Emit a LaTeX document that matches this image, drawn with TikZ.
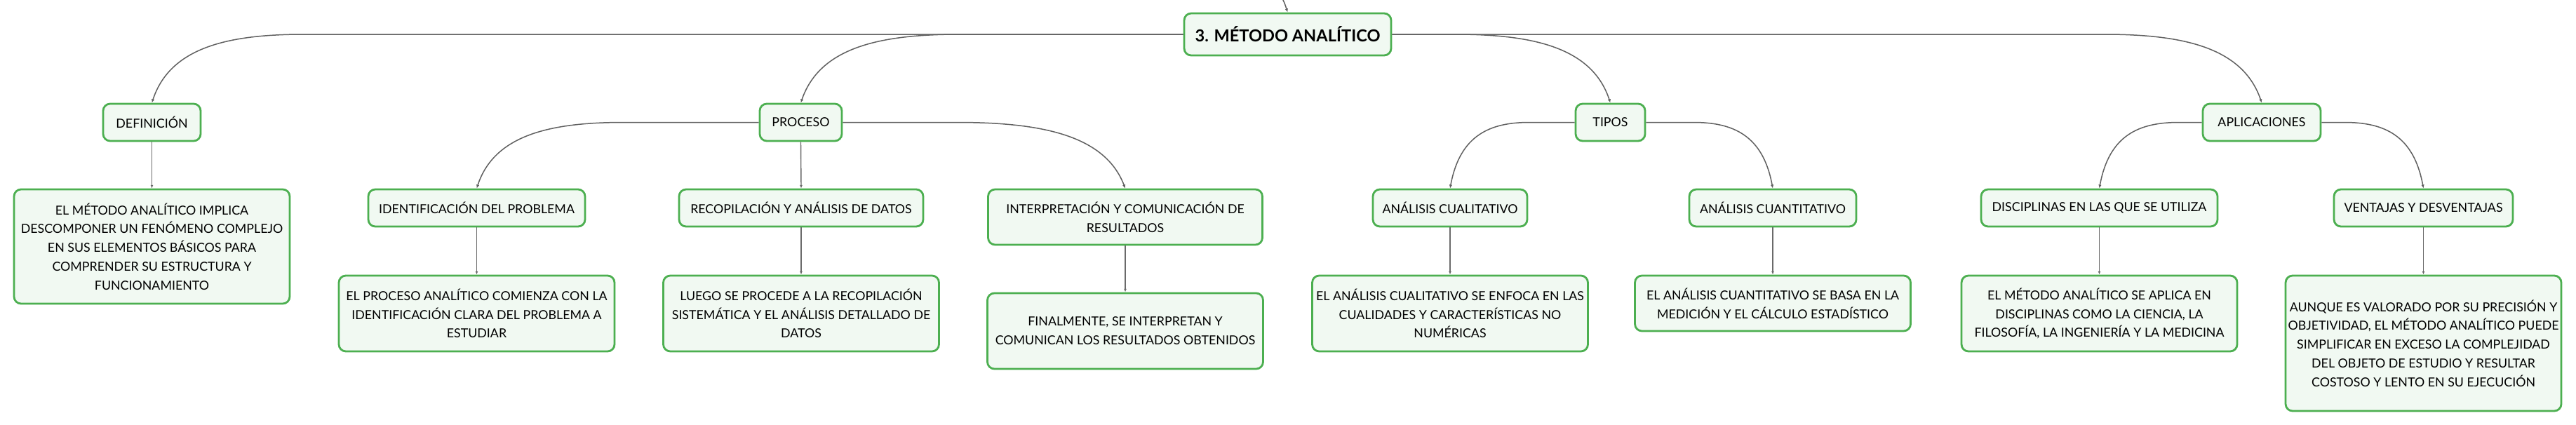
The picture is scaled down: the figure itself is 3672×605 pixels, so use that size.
\documentclass[tikz,border=0pt]{standalone}
\usepackage{fontspec}
\setmainfont{Lato}
\usetikzlibrary{arrows.meta}
\definecolor{boxgreen}{HTML}{4CAF50}
\definecolor{boxfill}{HTML}{F1F9F2}
\definecolor{linegray}{HTML}{606060}
\definecolor{linegraylight}{HTML}{6A6A6A}
\begin{document}
\begin{tikzpicture}[x=0.5pt,y=-0.5pt,
  box/.style={draw=boxgreen, line width=1.4pt, fill=boxfill, rounded corners=5pt,
    align=center, inner sep=0pt, text=black, font=\fontsize{8.9}{13.4}\selectfont},
  rootbox/.style={box, minimum width=147.5pt, minimum height=30pt,
    font=\bfseries\fontsize{11.8}{14}\selectfont},
  lvl/.style={box, minimum height=26.5pt},
  txt/.style={box, minimum width=196.5pt},
  conn/.style={draw=linegray, line width=0.75pt, -{Latex[length=2.6pt,width=2.2pt]}},
  connv/.style={draw=linegraylight, line width=0.7pt, -{Latex[length=2.4pt,width=2pt]}}
]
\useasboundingbox (0,0) rectangle (3672,605);

% ---------- nodes ----------
\node[rootbox] (root) at (1835.5,49) {3. MÉTODO ANALÍTICO};

\node[lvl, minimum width=69.5pt] (def) at (216.5,174.5) {DEFINICIÓN};
\node[lvl, minimum width=58.5pt] (proc) at (1141.5,174.5) {PROCESO};
\node[lvl, minimum width=49.5pt] (tipos) at (2295.5,174.5) {TIPOS};
\node[lvl, minimum width=84pt] (aplic) at (3224,174.5) {APLICACIONES};

\node[lvl, minimum width=154.5pt] (ident) at (679.5,296.5) {IDENTIFICACIÓN DEL PROBLEMA};
\node[lvl, minimum width=174pt] (recop) at (1142,296.5) {RECOPILACIÓN Y ANÁLISIS DE DATOS};
\node[box, minimum width=195.5pt, minimum height=39.5pt] (interp) at (1604,309.5) {INTERPRETACIÓN Y COMUNICACIÓN DE\\RESULTADOS};
\node[lvl, minimum width=110pt] (cual) at (2067,296.5) {ANÁLISIS CUALITATIVO};
\node[lvl, minimum width=119pt] (cuant) at (2527,296.5) {ANÁLISIS CUANTITATIVO};
\node[lvl, minimum width=168.5pt] (disc) at (2992.5,296.5) {DISCIPLINAS EN LAS QUE SE UTILIZA};
\node[lvl, minimum width=127.5pt] (vent) at (3454.5,296.5) {VENTAJAS Y DESVENTAJAS};

\node[txt, minimum height=81.5pt] (deft) at (216.5,351.5) {EL MÉTODO ANALÍTICO IMPLICA\\DESCOMPONER UN FENÓMENO COMPLEJO\\EN SUS ELEMENTOS BÁSICOS PARA\\COMPRENDER SU ESTRUCTURA Y\\FUNCIONAMIENTO};
\node[txt, minimum height=54pt] (identt) at (679.5,447) {EL PROCESO ANALÍTICO COMIENZA CON LA\\IDENTIFICACIÓN CLARA DEL PROBLEMA A\\ESTUDIAR};
\node[txt, minimum height=54pt] (recopt) at (1142,447) {LUEGO SE PROCEDE A LA RECOPILACIÓN\\SISTEMÁTICA Y EL ANÁLISIS DETALLADO DE\\DATOS};
\node[txt, minimum height=54pt] (interpt) at (1604,472) {FINALMENTE, SE INTERPRETAN Y\\COMUNICAN LOS RESULTADOS OBTENIDOS};
\node[txt, minimum height=54pt] (cualt) at (2067,447) {EL ANÁLISIS CUALITATIVO SE ENFOCA EN LAS\\CUALIDADES Y CARACTERÍSTICAS NO\\NUMÉRICAS};
\node[txt, minimum height=39.5pt] (cuantt) at (2527,432.5) {EL ANÁLISIS CUANTITATIVO SE BASA EN LA\\MEDICIÓN Y EL CÁLCULO ESTADÍSTICO};
\node[txt, minimum height=54pt] (disct) at (2992.5,447) {EL MÉTODO ANALÍTICO SE APLICA EN\\DISCIPLINAS COMO LA CIENCIA, LA\\FILOSOFÍA, LA INGENIERÍA Y LA MEDICINA};
\node[txt, minimum height=96.5pt] (ventt) at (3454.5,489.5) {AUNQUE ES VALORADO POR SU PRECISIÓN Y\\OBJETIVIDAD, EL MÉTODO ANALÍTICO PUEDE\\SIMPLIFICAR EN EXCESO LA COMPLEJIDAD\\DEL OBJETO DE ESTUDIO Y RESULTAR\\COSTOSO Y LENTO EN SU EJECUCIÓN};

% ---------- bend points ----------
\coordinate (ktop) at (1826,-6);
\coordinate (kdef) at (433,49);
\coordinate (kproc) at (1367,49);
\coordinate (ktipos) at (2075,49);
\coordinate (kaplic) at (3000,49);
\coordinate (kident) at (889,174.5);
\coordinate (kinterp) at (1364,174.5);
\coordinate (kcual) at (2180,174.5);
\coordinate (kcuant) at (2414,174.5);
\coordinate (kdisc) at (3106,174.5);
\coordinate (kvent) at (3342,174.5);

% ---------- connectors ----------
\draw[conn] (ktop) .. controls (1831,4) .. (root.north);

\draw[conn] (root.west) -- (kdef) .. controls +(-108,0) and +(26,-79) .. (def.north);
\draw[conn] (root.west) -- (kproc) .. controls +(-113,0) and +(27,-79) .. (proc.north);
\draw[conn] (root.east) -- (ktipos) .. controls +(110,0) and +(-26,-79) .. (tipos.north);
\draw[conn] (root.east) -- (kaplic) .. controls +(112,0) and +(-27,-79) .. (aplic.north);

\draw[conn] (proc.west) -- (kident) .. controls +(-105,0) and +(25,-76) .. (ident.north);
\draw[connv] (proc.south) -- (recop.north);
\draw[conn] (proc.east) -- (kinterp) .. controls +(120,0) and +(-29,-76) .. (interp.north);

\draw[conn] (tipos.west) -- (kcual) .. controls +(-56,0) and +(14,-76) .. (cual.north);
\draw[conn] (tipos.east) -- (kcuant) .. controls +(56,0) and +(-14,-76) .. (cuant.north);

\draw[conn] (aplic.west) -- (kdisc) .. controls +(-57,0) and +(14,-76) .. (disc.north);
\draw[conn] (aplic.east) -- (kvent) .. controls +(56,0) and +(-14,-76) .. (vent.north);

\draw[connv] (def.south) -- (deft.north);
\draw[connv] (ident.south) -- (identt.north);
\draw[connv] (recop.south) -- (recopt.north);
\draw[connv] (interp.south) -- (interpt.north);
\draw[connv] (cual.south) -- (cualt.north);
\draw[connv] (cuant.south) -- (cuantt.north);
\draw[connv] (disc.south) -- (disct.north);
\draw[connv] (vent.south) -- (ventt.north);
\end{tikzpicture}
\end{document}
